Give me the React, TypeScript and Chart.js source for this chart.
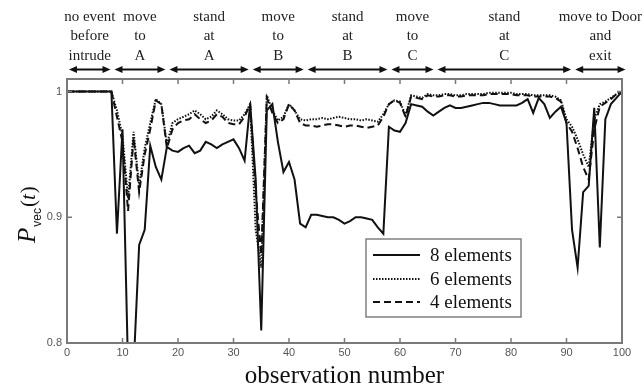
import React, { useEffect, useRef } from "react";
import { Chart, registerables } from "chart.js";

Chart.register(...registerables);

// ---------- data ----------
const observations: number[] = Array.from({ length: 101 }, (_, i) => i);

const seriesLabels = ["8 elements", "6 elements", "4 elements"];

const elements8 = [
  1, 1, 1, 1, 1, 1, 1, 1, 1, 0.887,
  0.97, 0.78, 0.78, 0.878, 0.89, 0.957, 0.94, 0.93, 0.956, 0.953,
  0.952, 0.955, 0.957, 0.951, 0.953, 0.96, 0.958, 0.955, 0.958, 0.96,
  0.962, 0.955, 0.945, 0.99, 0.93, 0.81, 0.985, 0.99, 0.96, 0.936,
  0.944, 0.93, 0.895, 0.892, 0.902, 0.902, 0.901, 0.9, 0.9, 0.898,
  0.895, 0.897, 0.9, 0.9, 0.899, 0.898, 0.892, 0.887, 0.972, 0.969,
  0.968, 0.975, 0.99, 0.989, 0.988, 0.984, 0.981, 0.984, 0.987, 0.989,
  0.987, 0.987, 0.988, 0.989, 0.99, 0.991, 0.991, 0.99, 0.989, 0.989,
  0.989, 0.989, 0.991, 0.994, 0.983, 0.995, 0.99, 0.979, 0.984, 0.988,
  0.975, 0.89, 0.86, 0.92, 0.925, 0.987, 0.876, 0.978, 0.99, 0.995,
  1,
];

const elements6 = [
  1, 1, 1, 1, 1, 1, 1, 1, 1, 0.985,
  0.965, 0.915, 0.968, 0.925, 0.955, 0.975, 0.994, 0.99, 0.958, 0.975,
  0.978, 0.98, 0.982, 0.985, 0.982, 0.978, 0.98, 0.985, 0.982, 0.978,
  0.977, 0.977, 0.982, 0.99, 0.89, 0.86, 0.997, 0.985, 0.977, 0.98,
  0.99, 0.985, 0.978, 0.977, 0.978, 0.978, 0.979, 0.978, 0.979, 0.98,
  0.979, 0.978, 0.978, 0.977, 0.978, 0.977, 0.976, 0.982, 0.99, 0.993,
  0.992, 0.981, 0.997, 0.996, 0.995, 0.998, 0.997, 0.997, 0.998, 0.998,
  0.997, 0.997, 0.998, 0.998, 0.998, 0.998, 0.999, 0.999, 0.999, 0.999,
  0.999, 0.998, 0.998, 0.998, 0.997, 0.997, 0.997, 0.997, 0.996, 0.993,
  0.978, 0.972, 0.962, 0.95, 0.94, 0.978, 0.99, 0.992, 0.995, 0.998,
  1,
];

const elements4 = [
  1, 1, 1, 1, 1, 1, 1, 1, 1, 0.98,
  0.96, 0.905, 0.963, 0.92, 0.95, 0.97, 0.993, 0.99, 0.955, 0.97,
  0.975, 0.977, 0.978, 0.982, 0.978, 0.975, 0.977, 0.982, 0.98, 0.975,
  0.974, 0.974, 0.98, 0.99, 0.92, 0.87, 0.995, 0.983, 0.975, 0.978,
  0.99, 0.985, 0.975, 0.973, 0.973, 0.972, 0.973, 0.974, 0.974, 0.973,
  0.972, 0.973, 0.973, 0.972, 0.971, 0.972, 0.973, 0.98, 0.99, 0.993,
  0.991, 0.98, 0.996, 0.995, 0.994, 0.997, 0.996, 0.996, 0.997, 0.997,
  0.996, 0.996, 0.997, 0.997, 0.997, 0.997, 0.998, 0.998, 0.998, 0.998,
  0.998, 0.997, 0.997, 0.997, 0.996, 0.996, 0.996, 0.996, 0.995, 0.992,
  0.975, 0.968, 0.955, 0.94, 0.93, 0.97, 0.988, 0.991, 0.994, 0.998,
  1,
];

const xTicks = [0, 10, 20, 30, 40, 50, 60, 70, 80, 90, 100];
const yTicks = [0.8, 0.9, 1];
const xTitle = "observation number";

const phaseNames = [
  ["no event", "before", "intrude"],
  ["move", "to", "A"],
  ["stand", "at", "A"],
  ["move", "to", "B"],
  ["stand", "at", "B"],
  ["move", "to", "C"],
  ["stand", "at", "C"],
  ["move to Door", "and", "exit"],
];
const phaseBounds = [0, 8.2, 18.1, 33.1, 43, 58.1, 66.4, 91.2, 101];

// ---------- plugins ----------
const framePlugin = {
  id: "frame",
  afterDatasetsDraw(chart: any) {
    const { ctx, chartArea: a, scales } = chart;
    ctx.save();
    ctx.strokeStyle = "#7a7a7a";
    ctx.lineWidth = 1.5;
    ctx.beginPath();
    for (const v of xTicks) {
      const x = scales.x.getPixelForValue(v);
      ctx.moveTo(x, a.bottom);
      ctx.lineTo(x, a.bottom - 5);
      ctx.moveTo(x, a.top);
      ctx.lineTo(x, a.top + 5);
    }
    for (const v of yTicks) {
      const y = scales.y.getPixelForValue(v);
      ctx.moveTo(a.left, y);
      ctx.lineTo(a.left + 5, y);
      ctx.moveTo(a.right, y);
      ctx.lineTo(a.right - 5, y);
    }
    ctx.stroke();
    ctx.lineWidth = 2;
    ctx.strokeRect(a.left, a.top, a.right - a.left, a.bottom - a.top);
    ctx.restore();
  },
};

const phasePlugin = {
  id: "phases",
  afterDraw(chart: any) {
    const { ctx, scales } = chart;
    const xs = scales.x;
    ctx.save();
    ctx.fillStyle = "#222";
    ctx.strokeStyle = "#111";
    ctx.font = '15px "Liberation Serif"';
    ctx.textAlign = "center";
    ctx.textBaseline = "alphabetic";
    const baselines = [21, 40, 60];
    const ay = 69.5;
    for (let i = 0; i < phaseNames.length; i++) {
      const x1 = xs.getPixelForValue(phaseBounds[i]) + 2;
      const x2 = xs.getPixelForValue(phaseBounds[i + 1]) - 2;
      const cx = (x1 + x2) / 2;
      phaseNames[i].forEach((t, j) => ctx.fillText(t, cx, baselines[j]));
      ctx.lineWidth = 2;
      ctx.beginPath();
      ctx.moveTo(x1 + 4, ay);
      ctx.lineTo(x2 - 4, ay);
      ctx.stroke();
      ctx.fillStyle = "#111";
      ctx.beginPath();
      ctx.moveTo(x1, ay);
      ctx.lineTo(x1 + 8, ay - 3.5);
      ctx.lineTo(x1 + 8, ay + 3.5);
      ctx.closePath();
      ctx.fill();
      ctx.beginPath();
      ctx.moveTo(x2, ay);
      ctx.lineTo(x2 - 8, ay - 3.5);
      ctx.lineTo(x2 - 8, ay + 3.5);
      ctx.closePath();
      ctx.fill();
      ctx.fillStyle = "#222";
    }
    ctx.restore();
  },
};

const titlesPlugin = {
  id: "titles",
  afterDraw(chart: any) {
    const { ctx, chartArea: a } = chart;
    ctx.save();
    ctx.fillStyle = "#111";
    ctx.textBaseline = "alphabetic";
    // x title
    ctx.font = '25px "Liberation Serif"';
    ctx.textAlign = "center";
    ctx.fillText(xTitle, (a.left + a.right) / 2, 383);
    // y title  P_vec(t)
    ctx.translate(35, 243);
    ctx.rotate(-Math.PI / 2);
    ctx.textAlign = "left";
    let x = 0;
    ctx.font = 'italic 25px "Liberation Serif"';
    ctx.fillText("P", x, 0);
    x += ctx.measureText("P").width + 1;
    ctx.font = '12px "Liberation Sans"';
    ctx.fillText("vec", x, 6);
    x += ctx.measureText("vec").width + 1;
    ctx.font = '21px "Liberation Serif"';
    ctx.fillText("(", x, 0);
    x += ctx.measureText("(").width;
    ctx.font = 'italic 21px "Liberation Serif"';
    ctx.fillText("t", x, 0);
    x += ctx.measureText("t").width + 1;
    ctx.font = '21px "Liberation Serif"';
    ctx.fillText(")", x, 0);
    ctx.restore();
  },
};

const legendPlugin = {
  id: "boxLegend",
  afterDraw(chart: any) {
    const { ctx } = chart;
    const bx = 366, by = 239, bw = 155, bh = 78;
    ctx.save();
    ctx.fillStyle = "#fff";
    ctx.fillRect(bx, by, bw, bh);
    ctx.strokeStyle = "#808080";
    ctx.lineWidth = 1.5;
    ctx.strokeRect(bx, by, bw, bh);
    const rows = [255, 279, 302];
    ctx.font = '19px "Liberation Serif"';
    ctx.textBaseline = "middle";
    ctx.textAlign = "left";
    chart.data.datasets.forEach((ds: any, i: number) => {
      const y = rows[i];
      ctx.strokeStyle = ds.borderColor;
      ctx.lineWidth = ds.borderWidth;
      ctx.setLineDash(ds.borderDash || []);
      ctx.beginPath();
      ctx.moveTo(bx + 7, y);
      ctx.lineTo(bx + 54, y);
      ctx.stroke();
      ctx.setLineDash([]);
      ctx.fillStyle = "#111";
      ctx.fillText(ds.label, bx + 64, y + 1);
    });
    ctx.restore();
  },
};

export default function App() {
  const ref = useRef<HTMLCanvasElement | null>(null);
  useEffect(() => {
    document.body.style.margin = "0";
    document.body.style.overflow = "hidden";
    document.body.style.background = "#fff";
    if (!ref.current) return;
    const chart = new Chart(ref.current, {
      type: "line",
      data: {
        labels: observations,
        datasets: [
          {
            label: seriesLabels[0],
            data: elements8,
            borderColor: "#111",
            borderWidth: 2,
            borderDash: [],
            pointRadius: 0,
            clip: 0,
          },
          {
            label: seriesLabels[1],
            data: elements6,
            borderColor: "#111",
            borderWidth: 2,
            borderDash: [1.5, 1.5],
            pointRadius: 0,
            clip: 0,
          },
          {
            label: seriesLabels[2],
            data: elements4,
            borderColor: "#111",
            borderWidth: 2,
            borderDash: [7, 4],
            pointRadius: 0,
            clip: 0,
          },
        ] as any,
      },
      options: {
        responsive: false,
        animation: false,
        devicePixelRatio: 1,
        layout: { padding: { top: 79, right: 22, left: 0, bottom: 0 } },
        plugins: { legend: { display: false }, tooltip: { enabled: false } },
        elements: { line: { tension: 0 }, point: { radius: 0 } },
        scales: {
          x: {
            type: "linear",
            min: 0,
            max: 100,
            afterBuildTicks: (s: any) => {
              s.ticks = xTicks.map((v) => ({ value: v }));
            },
            afterFit: (s: any) => {
              s.height = 45;
            },
            grid: { display: false, drawTicks: false },
            border: { display: false },
            ticks: {
              padding: 3,
              autoSkip: false,
              maxRotation: 0,
              color: "#555",
              font: { family: "Liberation Sans", size: 11 },
            },
          },
          y: {
            type: "linear",
            min: 0.8,
            max: 1.01,
            afterBuildTicks: (s: any) => {
              s.ticks = yTicks.map((v) => ({ value: v }));
            },
            afterFit: (s: any) => {
              s.width = 67;
            },
            grid: { display: false, drawTicks: false },
            border: { display: false },
            ticks: {
              padding: 5,
              color: "#555",
              font: { family: "Liberation Sans", size: 11 },
              callback: (v: any) => String(+Number(v).toFixed(2)),
            },
          },
        },
      } as any,
      plugins: [framePlugin, phasePlugin, titlesPlugin, legendPlugin],
    });
    return () => chart.destroy();
  }, []);
  return (
    <div style={{ width: 644, height: 388, background: "#fff" }}>
      <canvas ref={ref} width={644} height={388} style={{ display: "block" }} />
    </div>
  );
}
